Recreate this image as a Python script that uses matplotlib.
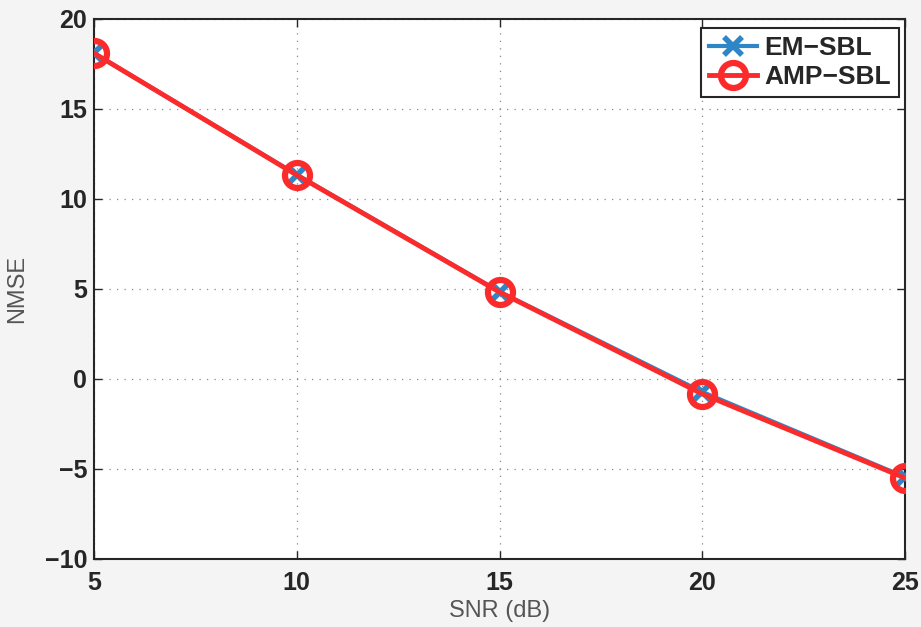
'''
NMSE versus SNR for EM-SBL and AMP-SBL
'''

import numpy as np
import matplotlib
matplotlib.use('Agg')
import matplotlib.pyplot as plt

# data
snr = [5, 10, 15, 20, 25]
nmseEM = [18.1, 11.35, 4.85, -0.72, -5.45]
nmseAMP = [18.1, 11.33, 4.83, -0.83, -5.5]

xTicks = [5, 10, 15, 20, 25]
yTicks = [-10, -5, 0, 5, 10, 15, 20]

plt.rcParams['font.family'] = ['Liberation Sans', 'DejaVu Sans']

fig = plt.figure(figsize=(9.21, 6.27), dpi=100, facecolor='#f4f4f4')
ax = fig.add_axes([94/921, 1-559/627, 811/921, 540/627])
ax.set_facecolor('white')

ax.plot(snr, nmseEM, color='#2f86c6', lw=3, marker='x', ms=13, mew=4,
        label='EM\u2212SBL', zorder=3)
ax.plot(snr, nmseAMP, color='#fc2b2b', lw=3.5, marker='o', ms=18, mew=4.5,
        mfc='none', label='AMP\u2212SBL', zorder=4)

ax.set_xlim(5, 25)
ax.set_ylim(-10, 20)
ax.set_xticks(xTicks)
ax.set_yticks(yTicks)
ax.set_xticklabels([str(v) for v in xTicks])
ax.set_yticklabels([str(v).replace('-', '\u2212') for v in yTicks])
ax.tick_params(direction='in', length=6, width=1, top=True, right=True,
               labelsize=18, colors='#262626')
ax.tick_params(axis='x', pad=9)
ax.tick_params(axis='y', pad=5)
for lab in ax.get_xticklabels() + ax.get_yticklabels():
    lab.set_fontweight('bold')
ax.grid(True, linestyle=(0, (1, 5)), color='#888888', lw=0.9)
for s in ax.spines.values():
    s.set_color('#262626')
    s.set_linewidth(1.5)

ax.set_xlabel('SNR (dB)', fontsize=17, color='#555555', labelpad=3)
ax.set_ylabel('NMSE', fontsize=17, color='#555555', labelpad=12)

leg = ax.legend(loc='upper right', prop={'weight': 'bold', 'size': 19},
                fancybox=False, framealpha=1, edgecolor='#262626',
                handlelength=1.8, borderaxespad=0, handletextpad=0.3,
                labelspacing=0.2, borderpad=0.3,
                bbox_to_anchor=(0.9926, 0.983))
leg.get_frame().set_linewidth(1.5)
for t in leg.get_texts():
    t.set_color('#262626')

fig.savefig('out.png', dpi=100, facecolor=fig.get_facecolor())
